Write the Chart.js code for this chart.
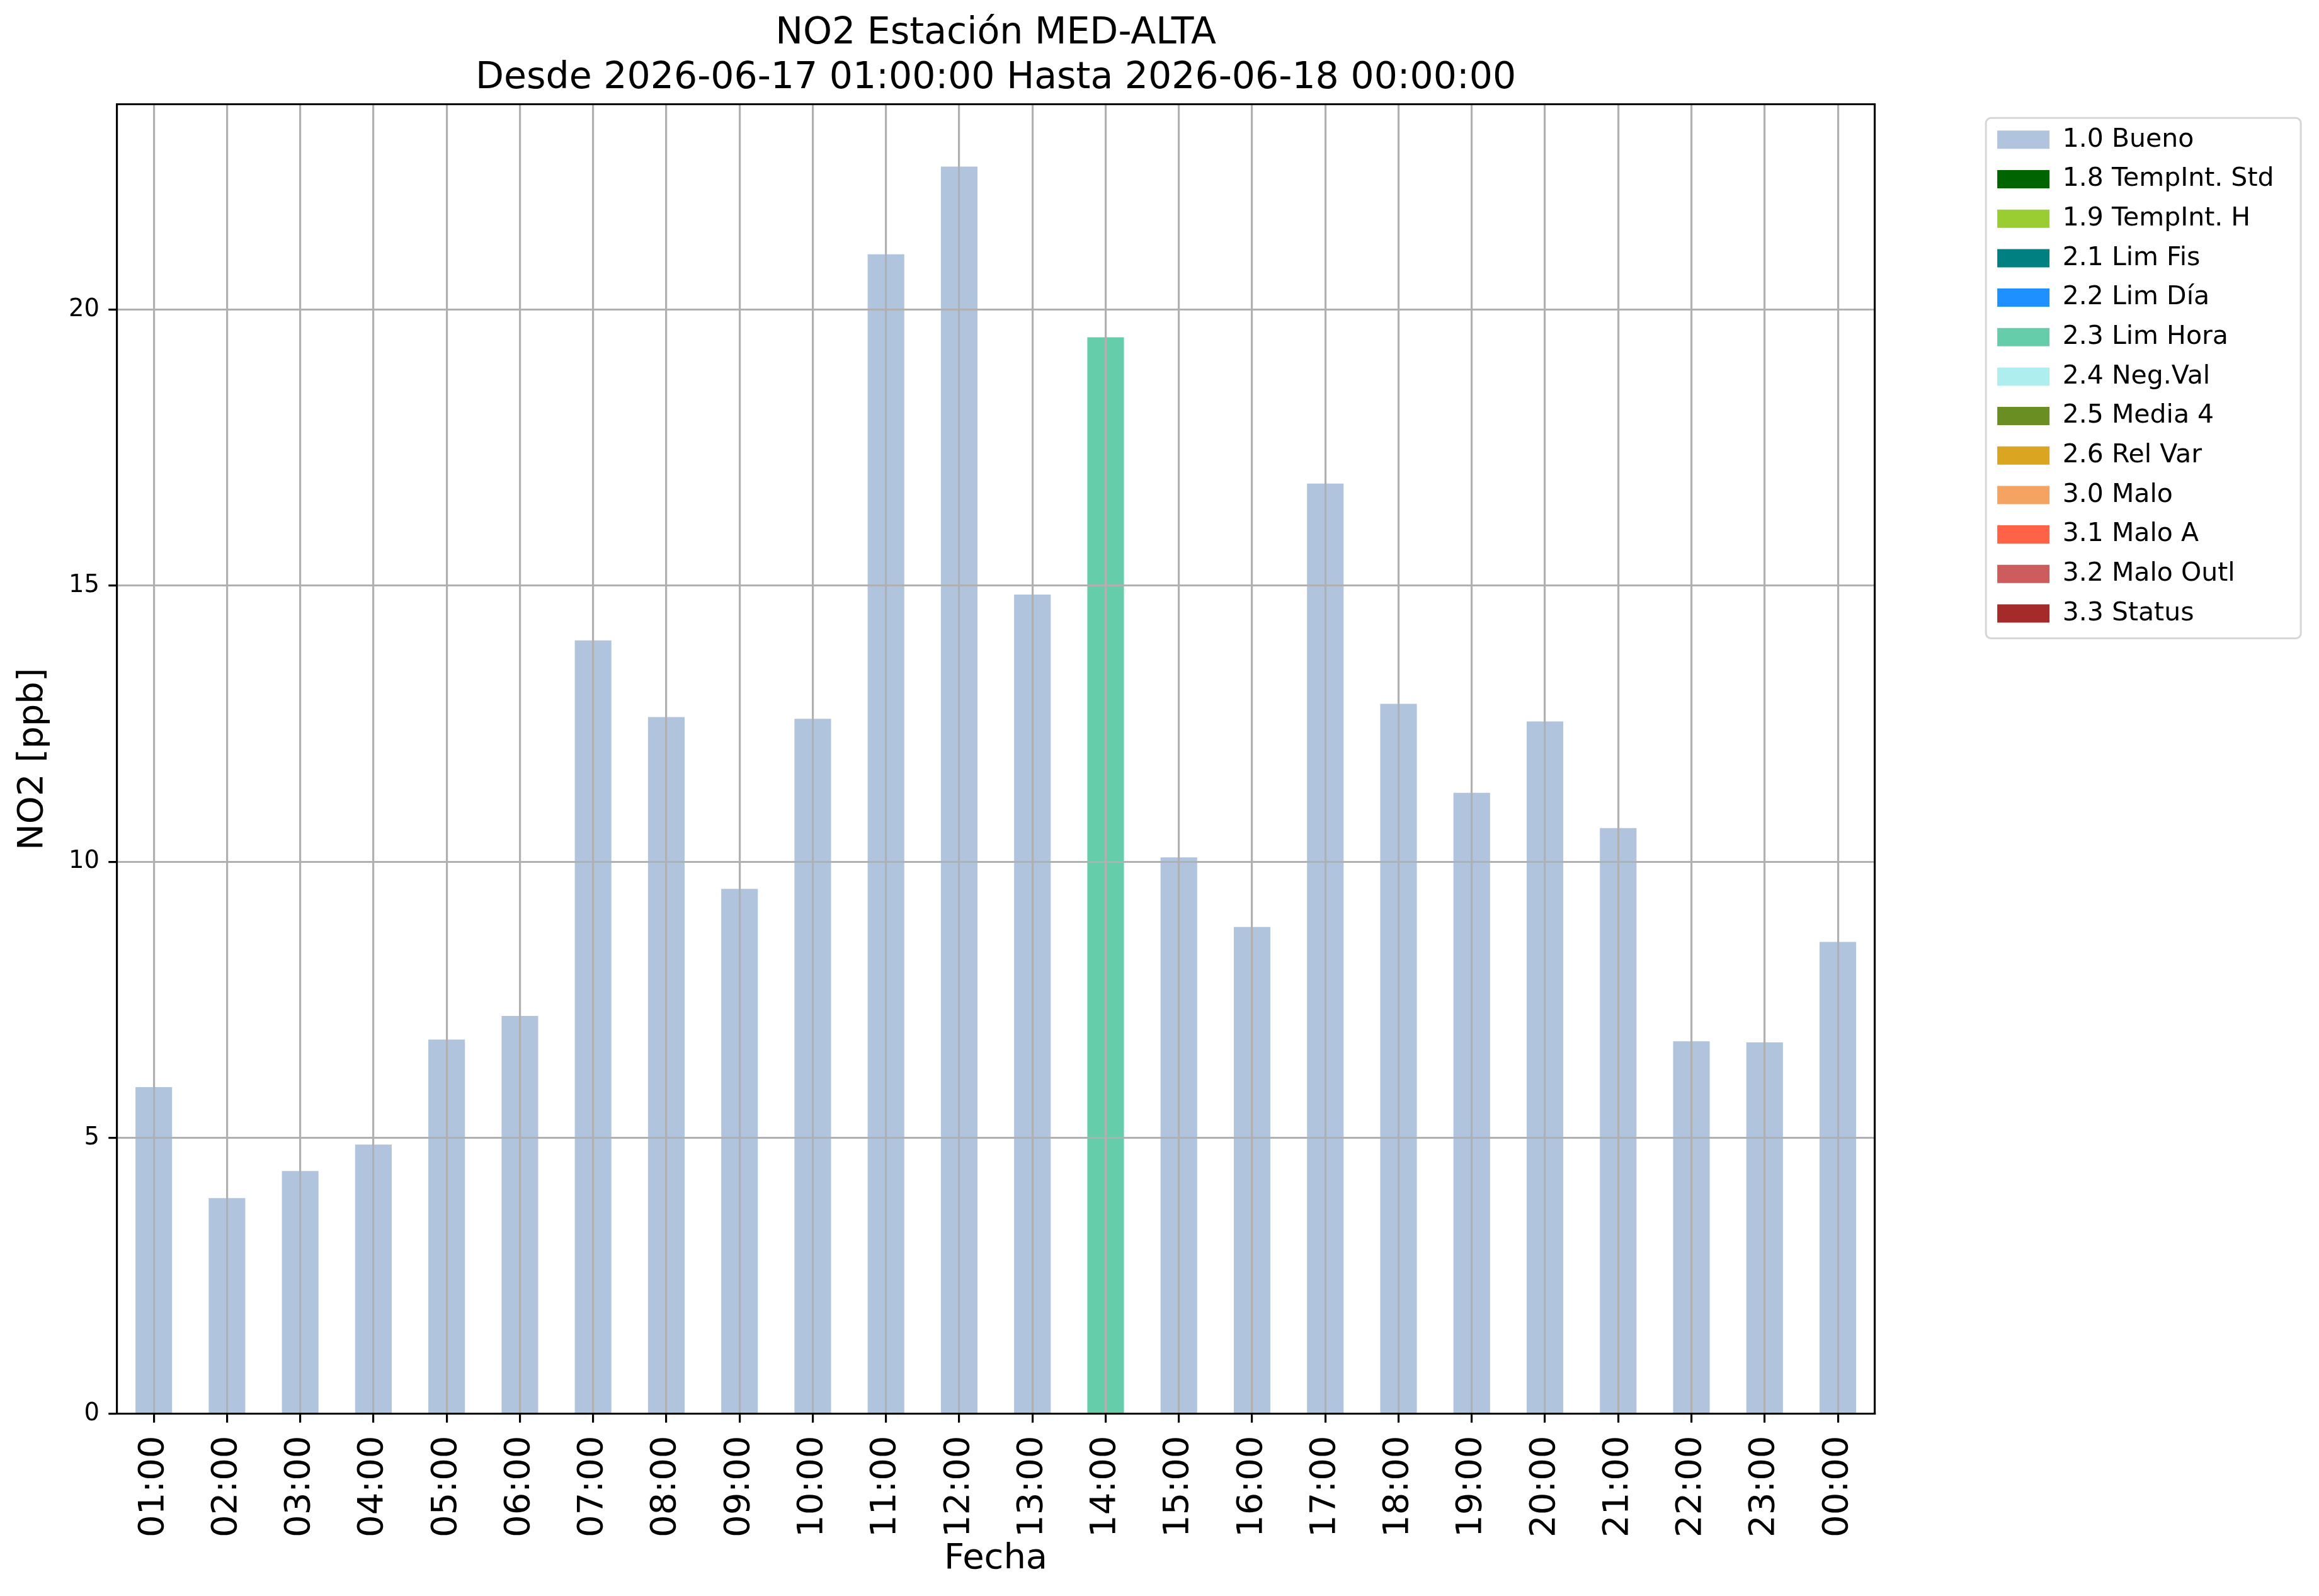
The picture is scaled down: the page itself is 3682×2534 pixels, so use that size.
<!DOCTYPE html>
<html>
<head>
<meta charset="utf-8">
<title>NO2 Estación MED-ALTA</title>
<script src="https://cdn.jsdelivr.net/npm/chart.js@4.4.1/dist/chart.umd.min.js"></script>
<style>
  html, body { margin: 0; padding: 0; background: white; }
  canvas { display: block; }
</style>
</head>
<body>
<canvas id="chart" width="3682" height="2534"></canvas>
<script>
'use strict';

const titleLines = ['NO2 Estación MED-ALTA', 'Desde 2026-06-17 01:00:00 Hasta 2026-06-18 00:00:00'];

const hours = ['01:00', '02:00', '03:00', '04:00', '05:00', '06:00', '07:00', '08:00',
  '09:00', '10:00', '11:00', '12:00', '13:00', '14:00', '15:00', '16:00',
  '17:00', '18:00', '19:00', '20:00', '21:00', '22:00', '23:00', '00:00'];

const no2 = [5.92, 3.91, 4.40, 4.88, 6.78, 7.21, 14.01, 12.62,
  9.51, 12.59, 21.00, 22.59, 14.84, 19.50, 10.08, 8.82,
  16.85, 12.86, 11.25, 12.54, 10.61, 6.75, 6.73, 8.55];

// quality flag of every hour
const flags = ['1.0', '1.0', '1.0', '1.0', '1.0', '1.0', '1.0', '1.0',
  '1.0', '1.0', '1.0', '1.0', '1.0', '2.3', '1.0', '1.0',
  '1.0', '1.0', '1.0', '1.0', '1.0', '1.0', '1.0', '1.0'];

const flagCodes = ['1.0', '1.8', '1.9', '2.1', '2.2', '2.3', '2.4', '2.5', '2.6', '3.0', '3.1', '3.2', '3.3'];
const flagNames = ['Bueno', 'TempInt. Std', 'TempInt. H', 'Lim Fis', 'Lim Día', 'Lim Hora',
  'Neg.Val', 'Media 4', 'Rel Var', 'Malo', 'Malo A', 'Malo Outl', 'Status'];
const flagColors = ['#b0c4de', '#006400', '#9acd32', '#008080', '#1e90ff', '#66cdaa',
  '#afeeee', '#6b8e23', '#daa520', '#f4a460', '#ff6347', '#cd5c5c', '#a52a2a'];

const yMax = 23.72;

const GRID = '#b0b0b0';
const LINE = 3.1;
const LEGEND_FONT = 41;
const LEGEND_PAD = 21.67;
const LEGEND_SPACER = 14.3;
const BOX_W = 83;
const BOX_H = 29;

Chart.defaults.font.family = "'DejaVu Sans', sans-serif";
Chart.defaults.color = '#000';

const datasets = flagCodes.map((code, i) => ({
  label: code + ' ' + flagNames[i],
  data: no2.map((v, h) => (flags[h] === code ? v : null)),
  backgroundColor: flagColors[i],
  borderColor: flagColors[i],
  borderWidth: 0,
}));

// matplotlib draws the grid over the bars
const gridOnTop = {
  id: 'gridOnTop',
  afterDatasetsDraw(chart) {
    chart.scales.x.drawGrid(chart.chartArea);
    chart.scales.y.drawGrid(chart.chartArea);
    Object.values(chart.scales).forEach((s) => s.drawBorder());
  }
};

const legendFrame = {
  id: 'legendFrame',
  afterDraw(chart) {
    const lg = chart.legend;
    const n = chart.data.datasets.length;
    const boxLeft = lg.left + LEGEND_PAD;
    const firstTop = lg.top + LEGEND_SPACER + LEGEND_PAD + (LEGEND_FONT - BOX_H) / 2;
    const lastBottom = firstTop + (n - 1) * (LEGEND_FONT + LEGEND_PAD) + BOX_H;
    const ctx = chart.ctx;
    ctx.save();
    ctx.strokeStyle = '#d6d6d6';
    ctx.lineWidth = 3;
    ctx.beginPath();
    ctx.roundRect(boxLeft - 18, firstTop - 20, 500, lastBottom - firstTop + 45, 8);
    ctx.stroke();
    ctx.restore();
  }
};

const spine = { color: '#000', width: LINE };

new Chart(document.getElementById('chart'), {
  type: 'bar',
  data: { labels: hours, datasets: datasets },
  plugins: [gridOnTop, legendFrame],
  options: {
    responsive: false,
    animation: false,
    devicePixelRatio: 1,
    layout: { padding: { left: 0, right: 61.5, top: 0, bottom: 0 } },
    datasets: { bar: { barPercentage: 0.5, categoryPercentage: 1.0 } },
    plugins: {
      tooltip: { enabled: false },
      title: {
        display: true,
        text: titleLines,
        fullSize: false,
        color: '#000',
        font: { size: 58.5, weight: 'normal', lineHeight: 1.2 },
        padding: { top: 19, bottom: 6 }
      },
      legend: {
        position: 'right',
        align: 'start',
        fullSize: false,
        title: { display: true, text: '', padding: 0, font: { size: LEGEND_SPACER, lineHeight: 1 } },
        labels: {
          boxWidth: BOX_W,
          boxHeight: BOX_H,
          padding: LEGEND_PAD,
          color: '#000',
          font: { size: LEGEND_FONT }
        }
      }
    },
    scales: {
      x: {
        type: 'category',
        stacked: true,
        offset: true,
        grid: { offset: false, color: GRID, lineWidth: LINE, tickLength: 13.5, tickColor: '#000', tickWidth: LINE },
        border: spine,
        ticks: { autoSkip: false, maxRotation: 90, minRotation: 90, padding: 21, font: { size: 56 } },
        title: { display: true, text: 'Fecha', font: { size: 56 }, padding: { top: 0, bottom: 25.4 } },
        afterFit: (s) => { s.height = 289; }
      },
      y: {
        stacked: true,
        min: 0,
        max: yMax,
        grid: { color: GRID, lineWidth: LINE, tickLength: 13.5, tickColor: '#000', tickWidth: LINE },
        border: spine,
        ticks: { stepSize: 5, includeBounds: false, padding: 14.5, font: { size: 38.5 } },
        title: { display: true, text: 'NO2 [ppb]', font: { size: 56 }, padding: { top: 18.4, bottom: 0 } },
        afterFit: (s) => { s.width = 186; }
      },
      // top and right spines
      x2: {
        type: 'linear',
        position: 'top',
        grid: { display: false, drawTicks: false },
        ticks: { display: false },
        border: spine,
        afterFit: (s) => { s.height = 0; }
      },
      y2: {
        type: 'linear',
        position: 'right',
        grid: { display: false, drawTicks: false },
        ticks: { display: false },
        border: spine,
        afterFit: (s) => { s.width = 173.3; }
      }
    }
  }
});
</script>
</body>
</html>
